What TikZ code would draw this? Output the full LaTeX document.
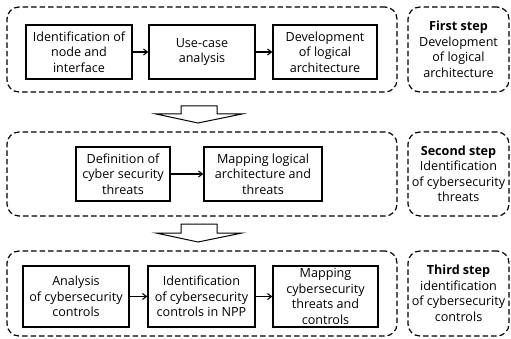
\documentclass[tikz,border=0pt]{standalone}
\usepackage{fontspec}
\setmainfont{Open Sans}
\usetikzlibrary{arrows.meta}
\begin{document}
\begin{tikzpicture}[x=1pt,y=-1pt,
  box/.style={draw, line width=1.2pt, align=center, inner sep=0pt, font=\fontsize{12.6}{15.5}\selectfont},
  grp/.style={draw, dashed, dash pattern=on 5.5pt off 3pt, line width=1.2pt, rounded corners=12pt, inner sep=0pt},
  lbl/.style={grp, align=center, font=\fontsize{12.6}{15.5}\selectfont},
  conn/.style={->, >={Straight Barb[length=4pt,width=6pt]}, line width=1.1pt},
  bigarrow/.style={draw, line width=1pt, fill=white}
]
\useasboundingbox (0,0) rectangle (511,339);
% groups
\node[grp, minimum width=390pt, minimum height=85pt] (g1) at (202,49.5) {};
\node[grp, minimum width=390pt, minimum height=84pt] (g2) at (202,174) {};
\node[grp, minimum width=390pt, minimum height=85pt] (g3) at (202,293.5) {};
\node[lbl, minimum width=101pt, minimum height=85pt] (s1) at (458.5,49.5) {\textbf{First step}\\Development\\of logical\\architecture};
\node[lbl, minimum width=101pt, minimum height=84pt] (s2) at (458.5,174) {\textbf{Second step}\\Identification\\of cybersecurity\\threats};
\node[lbl, minimum width=101pt, minimum height=85pt] (s3) at (458.5,293.5) {\textbf{Third step}\\identification\\of cybersecurity\\controls};
% row 1
\node[box, minimum width=106pt, minimum height=54pt] (a1) at (79,52) {Identification of\\node and\\interface};
\node[box, minimum width=106pt, minimum height=54pt] (a2) at (202,52) {Use-case\\analysis};
\node[box, minimum width=104pt, minimum height=54pt] (a3) at (325,52) {Development\\of logical\\architecture};
% row 2
\node[box, minimum width=94pt, minimum height=54pt] (b1) at (123,174) {Definition of\\cyber security\\threats};
\node[box, minimum width=118pt, minimum height=54pt] (b2) at (263,174) {Mapping logical\\architecture and\\threats};
% row 3
\node[box, minimum width=106pt, minimum height=61pt] (c1) at (76,296.5) {Analysis\\of cybersecurity\\controls};
\node[box, minimum width=107pt, minimum height=61pt] (c2) at (201.5,296.5) {Identification\\of cybersecurity\\controls in NPP};
\node[box, minimum width=105pt, minimum height=61pt] (c3) at (325.5,296.5) {Mapping\\cybersecurity\\threats and\\controls};
% connectors
\draw[conn] (a1) -- (a2);
\draw[conn] (a2) -- (a3);
\draw[conn] (b1) -- (b2);
\draw[conn] (c1) -- (c2);
\draw[conn] (c2) -- (c3);
% block arrows
\draw[bigarrow] (181,106) -- (217,106) -- (217,114) -- (242,114) -- (198,123) -- (156,114) -- (181,114) -- cycle;
\draw[bigarrow] (181,224) -- (217,224) -- (217,233) -- (242,233) -- (198,242) -- (156,233) -- (181,233) -- cycle;
\end{tikzpicture}
\end{document}
